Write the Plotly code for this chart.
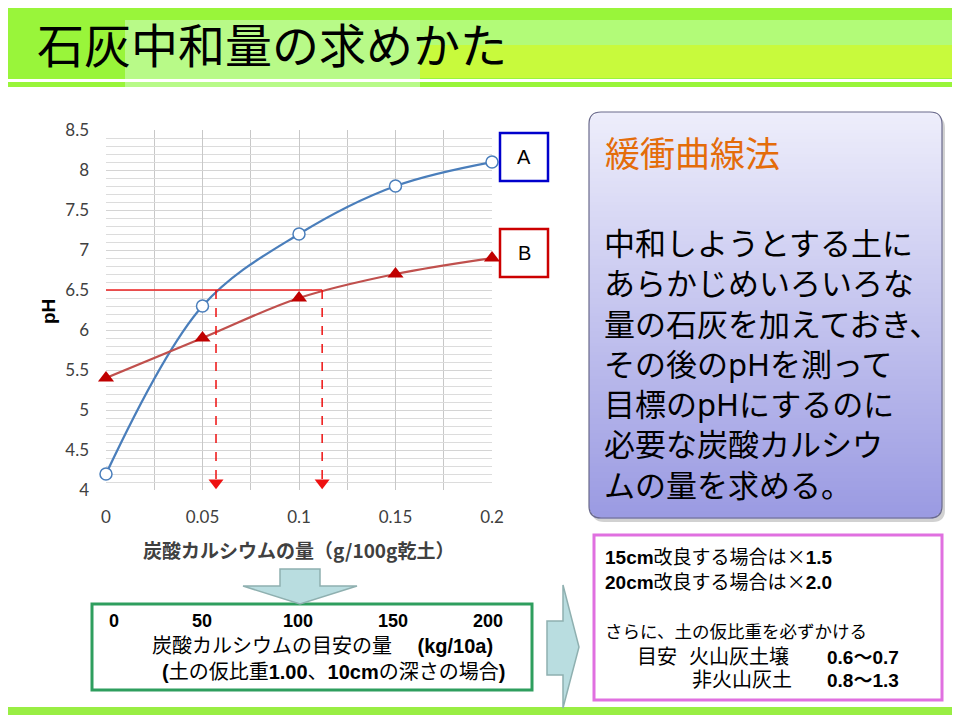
import plotly.graph_objects as go

# 炭酸カルシウム添加量 (g/100g乾土) と pH
calcium = [0, 0.05, 0.1, 0.15, 0.2]
ph_a = [4.2, 6.3, 7.2, 7.8, 8.1]
ph_b = [5.4, 5.9, 6.4, 6.7, 6.9]

# target pH and the amount
target_ph = 6.5
needed_calcium = [0.057, 0.112]

x_ticks = [0, 0.05, 0.1, 0.15, 0.2]
x_tick_labels = ["0", "0.05", "0.1", "0.15", "0.2"]
y_ticks = [4, 4.5, 5, 5.5, 6, 6.5, 7, 7.5, 8, 8.5]
y_tick_labels = ["4", "4.5", "5", "5.5", "6", "6.5", "7", "7.5", "8", "8.5"]

kg_labels = ["0", "50", "100", "150", "200"]

slide_title = "石灰中和量の求めかた"
method_title = "緩衝曲線法"
method_lines = [
	"中和しようとする土に",
	"あらかじめいろいろな",
	"量の石灰を加えておき、",
	"その後のpHを測って",
	"目標のpHにするのに",
	"必要な炭酸カルシウ",
	"ムの量を求める。",
]

W, H = 960, 720
OFF = 8  # the page body margin pushes the plot div by this much
JP = "Noto Sans CJK JP"
MIX = "Liberation Sans, Noto Sans CJK JP"
TIMES = '<span style="font-family:Noto Sans CJK JP">×</span>'


# page pixels -> paper coords
def px(x):
	return (x - OFF) / W

def py(y):
	return 1 - (y - OFF) / H

def rect(x0, y0, x1, y1, fill=None, line=None, width=0, layer="below"):
	return dict(type="rect", xref="paper", yref="paper",
		x0=px(x0), y0=py(y0), x1=px(x1), y1=py(y1),
		fillcolor=fill or "rgba(0,0,0,0)", layer=layer,
		line=dict(color=line or "rgba(0,0,0,0)", width=width))

def poly(points, fill, line, width=1.5):
	path = "M " + " L ".join(f"{px(x)} {py(y)}" for x, y in points) + " Z"
	return dict(type="path", xref="paper", yref="paper", path=path,
		fillcolor=fill, line=dict(color=line, width=width), layer="above")

def rounded(x0, y0, x1, y1, r, fill, line, width=1):
	p = (f"M {px(x0+r)} {py(y0)} L {px(x1-r)} {py(y0)} Q {px(x1)} {py(y0)} {px(x1)} {py(y0+r)} "
		f"L {px(x1)} {py(y1-r)} Q {px(x1)} {py(y1)} {px(x1-r)} {py(y1)} "
		f"L {px(x0+r)} {py(y1)} Q {px(x0)} {py(y1)} {px(x0)} {py(y1-r)} "
		f"L {px(x0)} {py(y0+r)} Q {px(x0)} {py(y0)} {px(x0+r)} {py(y0)} Z")
	return dict(type="path", xref="paper", yref="paper", path=p, layer="below",
		fillcolor=fill, line=dict(color=line, width=width))

def text(x, y, s, size, color="black", family=JP, anchor="left", angle=0):
	return dict(xref="paper", yref="paper", x=px(x), y=py(y), text=s,
		showarrow=False, xanchor=anchor, yanchor="middle", textangle=angle,
		font=dict(family=family, size=size, color=color))


fig = go.Figure()

fig.add_trace(go.Scatter(x=calcium, y=ph_a, mode="lines+markers", cliponaxis=False,
	line=dict(color="#4a7ebb", width=2.25, shape="spline"),
	marker=dict(symbol="circle", size=12, color="white", line=dict(color="#4a7ebb", width=1.5))))
fig.add_trace(go.Scatter(x=calcium, y=ph_b, mode="lines+markers", cliponaxis=False,
	line=dict(color="#c0504d", width=2.25, shape="spline"),
	marker=dict(symbol="triangle-up", size=14, color="#c00000")))

# target pH line and the dashed drops down to the x axis
y_min = y_ticks[0]
fig.add_trace(go.Scatter(x=[0, max(needed_calcium)], y=[target_ph, target_ph], mode="lines",
	line=dict(color="#ee2020", width=1.5)))
for xv in needed_calcium:
	fig.add_trace(go.Scatter(x=[xv, xv], y=[target_ph, y_min + 0.12], mode="lines",
		line=dict(color="#ee1111", width=1.5, dash="dash")))
fig.add_trace(go.Scatter(x=needed_calcium, y=[y_min + 0.09] * len(needed_calcium), mode="markers",
	cliponaxis=False, marker=dict(symbol="triangle-down", size=13, color="#ee1111")))

shapes = []

# title bar
shapes.append(rect(0, 0, 960, 87, "#99f53a"))
shapes.append(rect(125, 20, 420, 87, "#b8fa88"))
shapes.append(rect(420, 20, 960, 45, "#b2fb78"))
shapes.append(rect(420, 45, 960, 78, "#c8fa3c"))
shapes.append(rect(0, 79, 960, 82, "white"))
shapes.append(rect(0, 707, 960, 715, "#99ee44"))

# purple note box with vertical gradient
bx0, by0, bx1, by1, r = 589, 112, 942, 518, 12
shapes.append(rounded(bx0 + 3, by0 + 4, bx1 + 3, by1 + 4, r, "rgba(0,0,0,0.18)", "rgba(0,0,0,0)", 0))
top, bot = (238, 238, 251), (154, 154, 226)
step = 3
y = by0
while y < by1:
	y2 = min(y + step, by1)
	mid = (y + y2) / 2
	d = min(mid - by0, by1 - mid)
	inset = r - (r * r - (r - d) ** 2) ** 0.5 if d < r else 0
	t = (mid - by0) / (by1 - by0)
	c = tuple(round(a + (b - a) * t) for a, b in zip(top, bot))
	shapes.append(rect(bx0 + inset, y, bx1 - inset, y2 + 0.6, f"rgb{c}"))
	y = y2
shapes.append(rounded(bx0, by0, bx1, by1, r, "rgba(0,0,0,0)", "#6a6a8c", 1.2))

# A / B labels
shapes.append(rect(500, 133, 548, 181, "white", "#0000cc", 2.5, "above"))
shapes.append(rect(500, 229, 548, 277, "white", "#cc0000", 2.5, "above"))

# boxes at the bottom
shapes.append(rect(92, 604, 532, 690, "white", "#2e9e5e", 3))
shapes.append(rect(594, 535, 942, 700, "white", "#e070e0", 3))

# arrows
shapes.append(poly([(280, 569), (320, 569), (320, 586), (357, 586), (300, 604), (243, 586), (280, 586)],
	"#b9dde0", "#8fb0b0"))
shapes.append(poly([(547, 621), (563, 621), (563, 585), (579, 647), (563, 708), (563, 675), (547, 675)],
	"#b9dde0", "#8fb0b0"))

annotations = []
annotations.append(text(35, 42, slide_title, 47))
annotations.append(text(524, 157, "A", 20, family="Liberation Sans", anchor="center"))
annotations.append(text(524, 253, "B", 20, family="Liberation Sans", anchor="center"))

# axis titles
annotations.append(text(48, 312, "<b>pH</b>", 19, family="Liberation Sans", anchor="center", angle=-90))
annotations.append(text(298, 549, "<b>炭酸カルシウムの量（g/100g乾土）</b>", 19, "#404040", anchor="center"))

annotations.append(text(603, 152, method_title, 35, "#e46c0a"))
for i, line in enumerate(method_lines):
	annotations.append(text(602, 243 + 40.3 * i, line, 31, family="Noto Sans, Noto Sans CJK JP"))

# kg/10a scale under the chart
for i, lab in enumerate(kg_labels):
	x = 107 + 95.3 * i
	annotations.append(text(x, 621, f"<b>{lab}</b>", 18, family="Liberation Sans",
		anchor="left" if i == 0 else "center"))
annotations.append(text(150, 646, "炭酸カルシウムの目安の量　 <b>(kg/10a)</b>", 20, family=MIX))
annotations.append(text(160, 672, "<b>(</b>土の仮比重<b>1.00</b>、<b>10cm</b>の深さの場合<b>)</b>", 20, family=MIX))

annotations.append(text(603, 555, f"<b>15cm</b>改良する場合は{TIMES}<b>1.5</b>", 19, family=MIX))
annotations.append(text(603, 580, f"<b>20cm</b>改良する場合は{TIMES}<b>2.0</b>", 19, family=MIX))
annotations.append(text(603, 632, "さらに、土の仮比重を必ずかける", 17.5, family=MIX))
annotations.append(text(635, 657, "目安", 20, family=MIX))
annotations.append(text(687, 657, "火山灰土壌", 20, family=MIX))
annotations.append(text(825, 657, "<b>0.6～0.7</b>", 19, family=MIX))
annotations.append(text(690, 680, "非火山灰土", 20, family=MIX))
annotations.append(text(825, 680, "<b>0.8～1.3</b>", 19, family=MIX))

tick_font = dict(family="Lato", size=17, color="#404040")

fig.update_layout(
	width=W, height=H, autosize=False,
	margin=dict(l=0, r=0, t=0, b=0),
	paper_bgcolor="white", plot_bgcolor="white",
	showlegend=False,
	shapes=shapes,
	annotations=annotations,
	xaxis=dict(
		domain=[px(106), px(492)], range=[0, 0.2], automargin=False,
		tickvals=x_ticks, ticktext=x_tick_labels, ticks="",
		tickfont=tick_font, ticklabelstandoff=15,
		showgrid=True, gridcolor="#c8c8c8", gridwidth=1, zeroline=False,
		minor=dict(dtick=0.025, showgrid=True, gridcolor="#c8c8c8"),
		fixedrange=True,
	),
	yaxis=dict(
		domain=[py(490), py(130)], range=[4, 8.5], automargin=False,
		tickvals=y_ticks, ticktext=y_tick_labels, ticks="",
		tickfont=tick_font, ticklabelstandoff=16,
		showgrid=True, gridcolor="#d4d4d4", gridwidth=1, zeroline=False,
		minor=dict(dtick=0.1, showgrid=True, gridcolor="#dcdcdc"),
		fixedrange=True,
	),
)

fig.write_html("out.html")
